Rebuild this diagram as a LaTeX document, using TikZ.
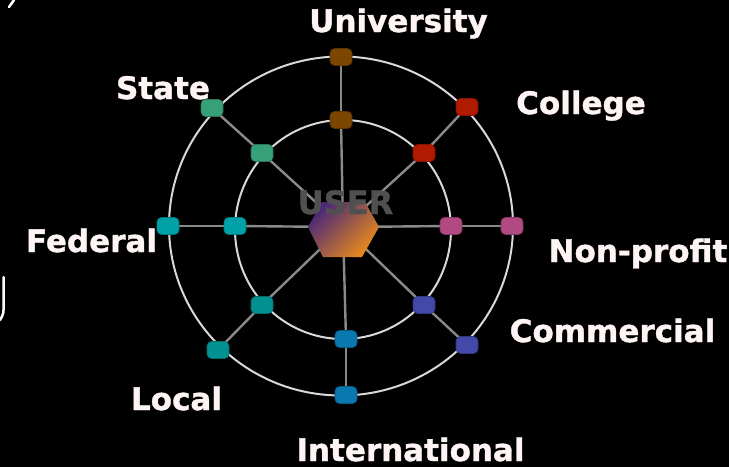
\documentclass[tikz,border=0pt]{standalone}
\usepackage{fontspec}
\setmainfont{DejaVu Sans}
\newfontfamily\lblfont{DejaVu Sans Bold}[FakeBold=1.2]
\definecolor{lblwhite}{HTML}{FFF4F4}
\definecolor{ringgray}{HTML}{D8D8D8}
\definecolor{spokegray}{HTML}{8A8A8A}
\definecolor{usergray}{HTML}{505050}
\definecolor{cUni}{HTML}{7A4600}
\definecolor{cCol}{HTML}{B01A00}
\definecolor{cNon}{HTML}{B04A80}
\definecolor{cCom}{HTML}{4249A8}
\definecolor{cInt}{HTML}{0A78B0}
\definecolor{cLoc}{HTML}{009190}
\definecolor{cFed}{HTML}{00A2A8}
\definecolor{cSta}{HTML}{38A078}
\definecolor{hexpurple}{HTML}{4A2878}
\definecolor{hexorange}{HTML}{EA8A1C}
\pgfdeclarelayer{bg}
\pgfdeclarelayer{back}
\pgfsetlayers{bg,back,main}
\begin{document}
\begin{tikzpicture}[x=1pt,y=-1pt]
\tikzset{
  lbl/.style={text=lblwhite, font=\fontsize{31}{36}\selectfont\lblfont, anchor=base, inner sep=0pt},
  sq/.style={rounded corners=4.5pt, minimum width=22pt, minimum height=17pt, inner sep=0pt, draw=#1!75!black, fill=#1, line width=0.6pt},
  ring/.style={draw=ringgray, line width=2pt},
  spoke/.style={draw=spokegray, line width=2.4pt},
  artifact/.style={draw=white, line width=2.5pt, line cap=round},
}
\begin{pgfonlayer}{bg}
\fill[black] (0,0) rectangle (729,467);
\end{pgfonlayer}
\useasboundingbox (0,0) rectangle (729,467);
% centre
\coordinate (c) at (343,227);
% squares
\node[sq=cUni] (oUni) at (341,57) {};
\node[sq=cUni] (iUni) at (341,120) {};
\node[sq=cCol] (oCol) at (467,107) {};
\node[sq=cCol] (iCol) at (424,153) {};
\node[sq=cNon] (oNon) at (512,226) {};
\node[sq=cNon] (iNon) at (451,226) {};
\node[sq=cCom] (oCom) at (467,345) {};
\node[sq=cCom] (iCom) at (424,305) {};
\node[sq=cInt] (oInt) at (346,395) {};
\node[sq=cInt] (iInt) at (346,339) {};
\node[sq=cLoc] (oLoc) at (218,350) {};
\node[sq=cLoc] (iLoc) at (262,305) {};
\node[sq=cFed] (oFed) at (168,226) {};
\node[sq=cFed] (iFed) at (235,226) {};
\node[sq=cSta] (oSta) at (212,108) {};
\node[sq=cSta] (iSta) at (262,153) {};
\begin{pgfonlayer}{back}
% rings
\draw[ring] (341,226) ellipse [x radius=172, y radius=169.5];
\draw[ring] (343,229.5) ellipse [x radius=108, y radius=109.5];
% spokes
\foreach \k in {Uni,Col,Non,Com,Int,Loc,Fed,Sta}{
  \draw[spoke] (c) -- (i\k.center);
  \draw[spoke] (i\k.center) -- (o\k.center);
}
\end{pgfonlayer}
% hexagon
\coordinate (h1) at (308,227);
\coordinate (h2) at (322,202);
\coordinate (h3) at (365,202);
\coordinate (h4) at (379,227);
\coordinate (h5) at (362,257);
\coordinate (h6) at (323,257);
\shade[top color=hexpurple, bottom color=hexorange, shading angle=45]
  (h1) -- (h2) -- (h3) -- (h4) -- (h5) -- (h6) -- cycle;
\node[text=usergray, font=\fontsize{32}{36}\selectfont\lblfont, anchor=base, inner sep=0pt] (user) at (345.5,214) {USER};
% labels
\node[lbl] (lUni) at (398.5,32) {University};
\node[lbl] (lSta) at (163,99) {State};
\node[lbl] (lCol) at (581,114) {College};
\node[lbl] (lNon) at (638,262) {Non-profit};
\node[lbl] (lCom) at (612.5,342) {Commercial};
\node[lbl] (lInt) at (410.5,461) {International};
\node[lbl] (lLoc) at (176.5,410) {Local};
\node[lbl] (lFed) at (91.5,252) {Federal};
% edge artifacts
\draw[artifact] (14,0) -- (9,7);
\draw[artifact] (3.5,277) -- (3.5,310) to[out=-90,in=60] (0,320);
\end{tikzpicture}
\end{document}
